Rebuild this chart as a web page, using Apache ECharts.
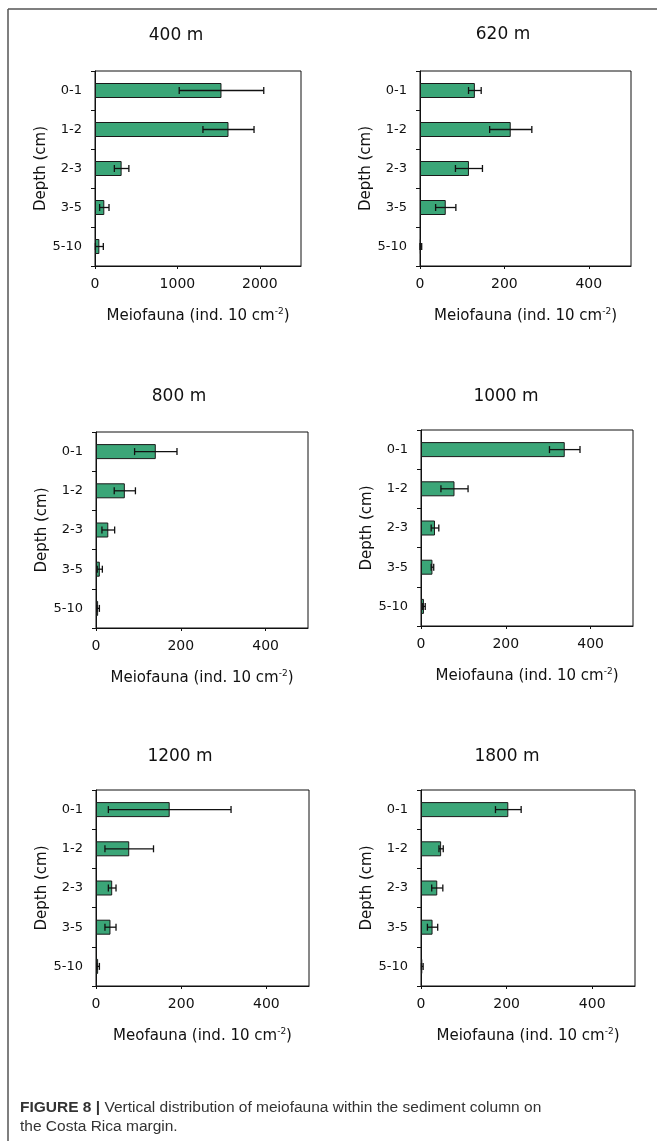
<!DOCTYPE html>
<html><head><meta charset="utf-8">
<script src="https://cdn.jsdelivr.net/npm/echarts@6/dist/echarts.min.js"></script>
<style>html,body{margin:0;padding:0;background:#fff}#c{width:657px;height:1141px}</style>
</head><body><div id="c"></div>
<script>
// ---------- data ----------
const depths = ['0-1', '1-2', '2-3', '3-5', '5-10'];
const stations = ['400 m', '620 m', '800 m', '1000 m', '1200 m', '1800 m'];
const xNames = [
  'Meiofauna (ind. 10 cm{sup|-2})',
  'Meiofauna (ind. 10 cm{sup|-2})',
  'Meiofauna (ind. 10 cm{sup|-2})',
  'Meiofauna (ind. 10 cm{sup|-2})',
  'Meofauna (ind. 10 cm{sup|-2})',
  'Meiofauna (ind. 10 cm{sup|-2})'
];
const mean400 = [1535, 1620, 323, 113, 53];
const err400 = [513, 310, 88, 57, 48];
const mean620 = [130, 215, 116, 61, 2];
const err620 = [15, 50, 32, 24, 2];
const mean800 = [141, 68, 29, 9, 5];
const err800 = [50, 25, 15, 6, 3];
const mean1000 = [339, 79, 33, 27, 7];
const err1000 = [36, 32, 9, 3, 3];
const mean1200 = [173, 78, 38, 34, 5];
const err1200 = [144, 57, 9, 13, 3];
const mean1800 = [204, 47, 38, 27, 3];
const err1800 = [30, 5, 13, 12, 2];
const axisMax = [2500, 500, 500, 500, 500, 500];
const tickStep = [1000, 200, 200, 200, 200, 200];
const caption1 = 'Vertical distribution of meiofauna within the sediment column on';
const caption2 = 'the Costa Rica margin.';

const means = [mean400, mean620, mean800, mean1000, mean1200, mean1800];
const errs = [err400, err620, err800, err1000, err1200, err1800];

// ---------- layout ----------
const gridBoxes = [
  {left: 95, top: 71, width: 206, height: 195},
  {left: 420, top: 71, width: 211, height: 195},
  {left: 96, top: 432, width: 212, height: 196},
  {left: 421, top: 430, width: 212, height: 196},
  {left: 96, top: 790, width: 213, height: 196},
  {left: 421, top: 790, width: 214, height: 196}
];
const titlePos = [[176, 36], [503, 35], [179, 397], [506, 397], [180, 757], [507, 757]];

const FONT = '"DejaVu Sans", Verdana, sans-serif';
const CAPFONT = '"Liberation Sans", Arial, sans-serif';
const BAR = '#3ba678';
const INK = '#111';

const grid = [], xAxis = [], yAxis = [], series = [], graphic = [];

gridBoxes.forEach((g, i) => {
  grid.push(Object.assign({show: true, borderColor: INK, borderWidth: 1, backgroundColor: 'transparent'}, g));
  xAxis.push({
    type: 'value', gridIndex: i, min: 0, max: axisMax[i], interval: tickStep[i],
    axisLine: {show: true, lineStyle: {color: INK, width: 1}},
    axisTick: {show: true, length: 3, lineStyle: {color: INK}},
    splitLine: {show: false},
    axisLabel: {fontFamily: FONT, fontSize: 14, color: INK, margin: 11, showMaxLabel: false,
      formatter: v => (v % tickStep[i] === 0 ? String(v) : '')},
    name: xNames[i], nameLocation: 'middle', nameGap: 41,
    nameTextStyle: {fontFamily: FONT, fontSize: 15, color: INK, lineHeight: 18,
      rich: {sup: {fontFamily: FONT, fontSize: 9, color: INK, verticalAlign: 'top', lineHeight: 10}}}
  });
  yAxis.push({
    type: 'category', gridIndex: i, data: depths, inverse: true,
    axisLine: {show: true, lineStyle: {color: INK, width: 1}},
    axisTick: {show: true, length: 4, lineStyle: {color: INK}},
    axisLabel: {fontFamily: FONT, fontSize: 13, color: INK, margin: 13},
    name: 'Depth (cm)', nameLocation: 'middle', nameRotate: 90, nameGap: 46,
    nameTextStyle: {fontFamily: FONT, fontSize: 15, color: INK}
  });
  series.push({
    type: 'bar', xAxisIndex: i, yAxisIndex: i, data: means[i], barWidth: 15,
    itemStyle: {color: BAR, borderColor: '#1a1a1a', borderWidth: 1},
    animation: false, silent: true
  });
  series.push({
    type: 'custom', xAxisIndex: i, yAxisIndex: i, z: 5, animation: false, silent: true,
    encode: {x: [0, 1], y: 2},
    data: means[i].map((m, k) => [Math.max(0, m - errs[i][k]), m + errs[i][k], k]),
    renderItem: (params, api) => {
      const cat = api.value(2);
      const lo = api.coord([api.value(0), cat]);
      const hi = api.coord([api.value(1), cat]);
      const h = 3.5;
      const style = {stroke: INK, lineWidth: 1.3};
      return {type: 'group', children: [
        {type: 'line', shape: {x1: lo[0], y1: lo[1], x2: hi[0], y2: hi[1]}, style},
        {type: 'line', shape: {x1: lo[0], y1: lo[1] - h, x2: lo[0], y2: lo[1] + h}, style},
        {type: 'line', shape: {x1: hi[0], y1: hi[1] - h, x2: hi[0], y2: hi[1] + h}, style}
      ]};
    }
  });
  graphic.push({
    type: 'text', x: titlePos[i][0], y: titlePos[i][1],
    style: {text: stations[i], fontFamily: FONT, fontSize: 17, fill: INK, align: 'center', verticalAlign: 'middle'}
  });
});

// frame lines
graphic.push({type: 'line', shape: {x1: 8, y1: 9, x2: 657, y2: 9}, style: {stroke: '#555', lineWidth: 1.5}});
graphic.push({type: 'line', shape: {x1: 8, y1: 9, x2: 8, y2: 1141}, style: {stroke: '#555', lineWidth: 1.5}});
// caption
graphic.push({
  type: 'text', x: 20, y: 1098,
  style: {
    text: '{b|FIGURE 8 |} ' + caption1 + '\n' + caption2,
    fontFamily: CAPFONT, fontSize: 15.5, fill: '#333', lineHeight: 19,
    rich: {b: {fontFamily: CAPFONT, fontSize: 15.5, fontWeight: 'bold', fill: '#333', lineHeight: 19}}
  }
});

const chart = echarts.init(document.getElementById('c'), null, {renderer: 'canvas'});
chart.setOption({animation: false, backgroundColor: '#fff', grid, xAxis, yAxis, series, graphic});
</script></body></html>
